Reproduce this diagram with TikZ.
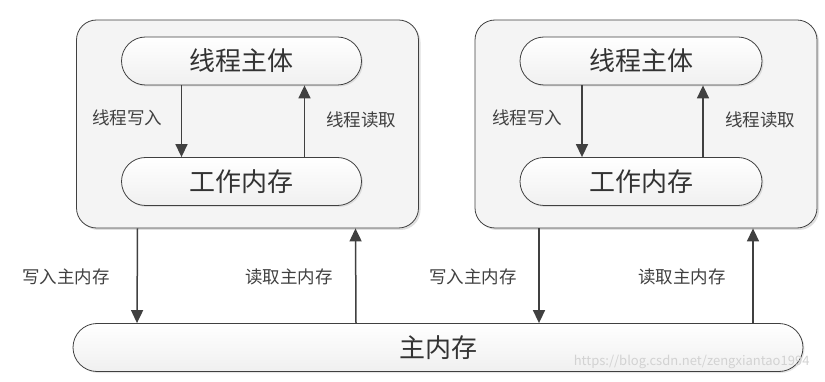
\documentclass[tikz,border=0pt]{standalone}
\usepackage{fontspec}
\setmainfont{Noto Sans CJK SC}
\usetikzlibrary{positioning,calc,arrows.meta,shadows}

\definecolor{linegray}{HTML}{404040}
\definecolor{boxgray}{HTML}{F4F4F4}

\tikzset{
  threadbox/.style={draw=linegray, line width=0.8pt, fill=boxgray, rounded corners=20pt,
    minimum width=342pt, minimum height=208pt,
    drop shadow={shadow xshift=2pt, shadow yshift=-2pt, opacity=0.25}},
  pill/.style={draw=linegray, line width=0.8pt, rounded corners=24pt,
    top color=white, bottom color=gray!12, minimum height=48pt,
    font=\fontsize{26}{28}\selectfont, text=black!80,
    drop shadow={shadow xshift=1.5pt, shadow yshift=-1.5pt, opacity=0.2}},
  lbl/.style={font=\fontsize{17.5}{19}\selectfont, text=black!75},
  arr/.style={draw=linegray, line width=1.5pt,
    -{Triangle[length=13pt, width=12pt]}},
}

\begin{document}
\begin{tikzpicture}[x=1pt, y=-1pt]
  \useasboundingbox (0,0) rectangle (825,382);

  % Thread 1
  \node[threadbox] (t1) at (247.5, 124) {};
  \node[pill, minimum width=240pt] (body1) at (241.5, 61) {线程主体};
  \node[pill, minimum width=240pt] (work1) at (241.5, 181.5) {工作内存};
  \draw[arr] ([xshift=-60pt]body1.south) -- ([xshift=-60pt]work1.north);
  \draw[arr] ([xshift=63pt]work1.north) -- ([xshift=63pt]body1.south);
  \node[lbl] (w1) at (127, 118) {线程写入};
  \node[lbl] (r1) at (361, 120) {线程读取};

  % Thread 2
  \node[threadbox] (t2) at (646, 124) {};
  \node[pill, minimum width=242pt] (body2) at (641, 61) {线程主体};
  \node[pill, minimum width=242pt] (work2) at (641, 181.5) {工作内存};
  \draw[arr] ([xshift=-59pt]body2.south) -- ([xshift=-59pt]work2.north);
  \draw[arr] ([xshift=62pt]work2.north) -- ([xshift=62pt]body2.south);
  \node[lbl] (w2) at (527, 118) {线程写入};
  \node[lbl] (r2) at (760, 120) {线程读取};

  % Main memory
  \node[pill, minimum width=730pt] (mem) at (438, 347.5) {主内存};
  \draw[arr] ([xshift=-110pt]t1.south) -- ($(mem.north)!(137,0)!(mem.north east)$);
  \draw[arr] ($(mem.north)!(356,0)!(mem.north west)$) -- ([xshift=108pt]t1.south);
  \draw[arr] ([xshift=-107pt]t2.south) -- ($(mem.north)!(539,0)!(mem.north east)$);
  \draw[arr] ($(mem.north)!(753,0)!(mem.north east)$) -- ([xshift=107pt]t2.south);
  \node[lbl] (wm1) at (66, 277) {写入主内存};
  \node[lbl] (rm1) at (289, 277) {读取主内存};
  \node[lbl] (wm2) at (473, 277) {写入主内存};
  \node[lbl] (rm2) at (682, 277) {读取主内存};

  % watermark
  \node[font=\fontsize{13}{14}\selectfont, text=gray!35, anchor=east] (url) at (813, 362)
    {https://blog.csdn.net/zengxiantao1994};
\end{tikzpicture}
\end{document}
